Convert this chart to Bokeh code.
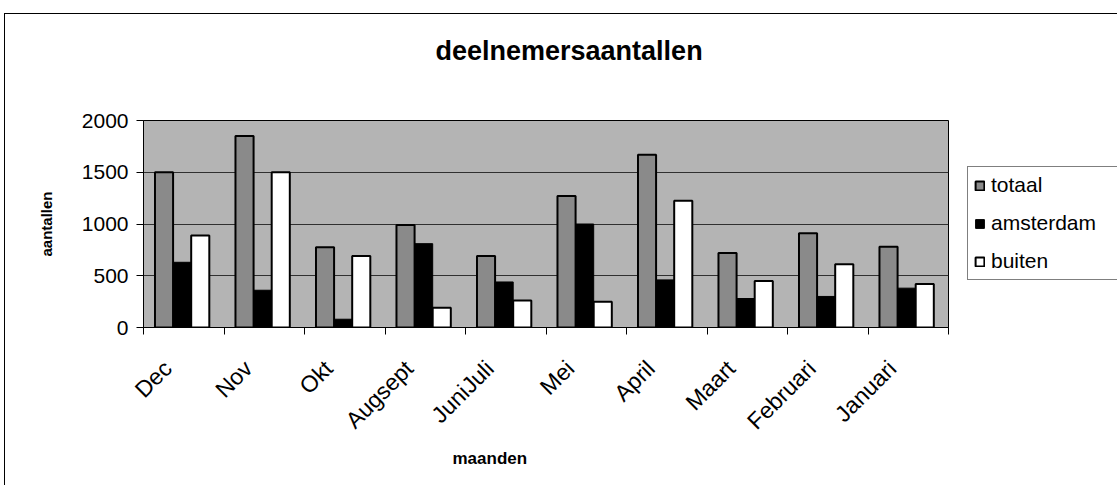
import math
from bokeh.plotting import figure
from bokeh.layouts import row
from bokeh.models import FixedTicker, Legend, LegendItem, Title, Range1d
from bokeh.embed import file_html
from bokeh.resources import INLINE

months = ["Dec", "Nov", "Okt", "Augsept", "JuniJuli", "Mei", "April", "Maart", "Februari", "Januari"]
totaal = [1500, 1850, 775, 990, 690, 1270, 1670, 720, 910, 780]
amsterdam = [630, 360, 80, 810, 440, 1000, 460, 280, 300, 380]
buiten = [890, 1500, 690, 190, 260, 250, 1225, 450, 610, 420]
y_ticks = [0, 500, 1000, 1500, 2000]
series_names = ["totaal", "amsterdam", "buiten"]
title_text = "deelnemersaantallen"
x_title = "maanden"
y_title = "aantallen"

FONT = "Liberation Sans"
styles_tot = dict(fill_color="#8a8a8a", line_color="black", line_width=2)
styles_ams = dict(fill_color="black", line_color="black", line_width=1)
styles_bui = dict(fill_color="white", line_color="black", line_width=2)

p = figure(width=958, height=472, output_backend="svg", toolbar_location=None,
           x_range=Range1d(0, len(months)), y_range=Range1d(0, 2000),
           min_border_left=138, min_border_right=15, min_border_top=106, min_border_bottom=159)
p.styles = {"border-left": "1px solid black", "border-top": "1px solid black",
            "margin-left": "4px", "margin-top": "13px"}

p.background_fill_color = "#b4b4b4"
p.border_fill_color = "white"
p.outline_line_color = "black"
p.outline_line_width = 1

bw = 0.225
idx = list(range(len(months)))
p.vbar(x=[i + 0.255 for i in idx], top=totaal, width=bw, **styles_tot)
p.vbar(x=[i + 0.48 for i in idx], top=amsterdam, width=bw, **styles_ams)
p.vbar(x=[i + 0.705 for i in idx], top=buiten, width=bw, **styles_bui)

# axes
label_pos = [i + 0.3 for i in idx]
xa = p.xaxis[0]
xa.ticker = FixedTicker(ticks=label_pos, minor_ticks=list(range(len(months) + 1)))
xa.major_label_overrides = {pos: m for pos, m in zip(label_pos, months)}
xa.major_tick_in = 0
xa.major_tick_out = 0
xa.minor_tick_in = 0
xa.minor_tick_out = 7
xa.minor_tick_line_color = "black"
xa.axis_line_color = "black"
xa.major_label_orientation = math.pi / 4
xa.major_label_standoff = 30
xa.major_label_text_font = FONT
xa.major_label_text_font_size = "23px"
xa.major_label_text_color = "black"

ya = p.yaxis[0]
ya.ticker = FixedTicker(ticks=y_ticks)
ya.minor_tick_line_color = None
ya.major_tick_in = 0
ya.major_tick_out = 7
ya.major_tick_line_color = "black"
ya.axis_line_color = "black"
ya.major_label_standoff = 8
ya.major_label_text_font = FONT
ya.major_label_text_font_size = "21px"
ya.major_label_text_color = "black"
ya.axis_label = y_title
ya.axis_label_text_font = FONT
ya.axis_label_text_font_size = "15px"
ya.axis_label_text_font_style = "bold"
ya.axis_label_text_color = "black"
ya.axis_label_standoff = 24

p.xgrid.grid_line_color = None
p.ygrid.ticker = FixedTicker(ticks=y_ticks)
p.ygrid.grid_line_color = "#303030"
p.ygrid.grid_line_width = 1

# titles (an empty spacer title keeps the main title away from the frame)
p.add_layout(Title(text=" ", text_font=FONT, text_font_size="10px", standoff=42), "above")
p.add_layout(Title(text=title_text, text_font=FONT, text_font_size="27px", text_font_style="bold",
                   align="left", offset=292, standoff=0, text_color="black"), "above")
p.add_layout(Title(text=x_title, text_font=FONT, text_font_size="17px", text_font_style="bold",
                   align="left", offset=309, standoff=0, text_color="black"), "below")

# legend in its own small figure to the right (its frame is aligned with the main frame);
# the legend-only renderers are tiny and hidden behind the opaque legend box
lf = figure(width=155, height=472, output_backend="svg", toolbar_location=None,
            x_range=Range1d(0, 1), y_range=Range1d(0, 1), min_border=0)
lf.styles = {"border-top": "1px solid black", "margin-top": "13px"}
lf.axis.visible = False
lf.grid.visible = False
lf.outline_line_color = None
lf.background_fill_color = "white"
lf.border_fill_color = "white"
l1 = lf.vbar(x=[0.6], bottom=[0.48], top=[0.5], width=0.05, **styles_tot)
l2 = lf.vbar(x=[0.6], bottom=[0.48], top=[0.5], width=0.05, **styles_ams)
l3 = lf.vbar(x=[0.6], bottom=[0.48], top=[0.5], width=0.05, **styles_bui)

legend = Legend(items=[LegendItem(label=series_names[0], renderers=[l1]),
                       LegendItem(label=series_names[1], renderers=[l2]),
                       LegendItem(label=series_names[2], renderers=[l3])],
                location=(5, 47))
legend.border_line_color = "black"
legend.border_line_width = 1
legend.background_fill_color = "white"
legend.background_fill_alpha = 1
legend.label_text_font = FONT
legend.label_text_font_size = "21px"
legend.label_text_color = "black"
legend.label_width = 128
legend.glyph_width = 11
legend.glyph_height = 11
legend.label_standoff = 6
legend.padding = 6
legend.spacing = 14
legend.margin = 0
lf.add_layout(legend)

layout = row(p, lf, spacing=0)
open("out.html", "w").write(file_html(layout, INLINE))
